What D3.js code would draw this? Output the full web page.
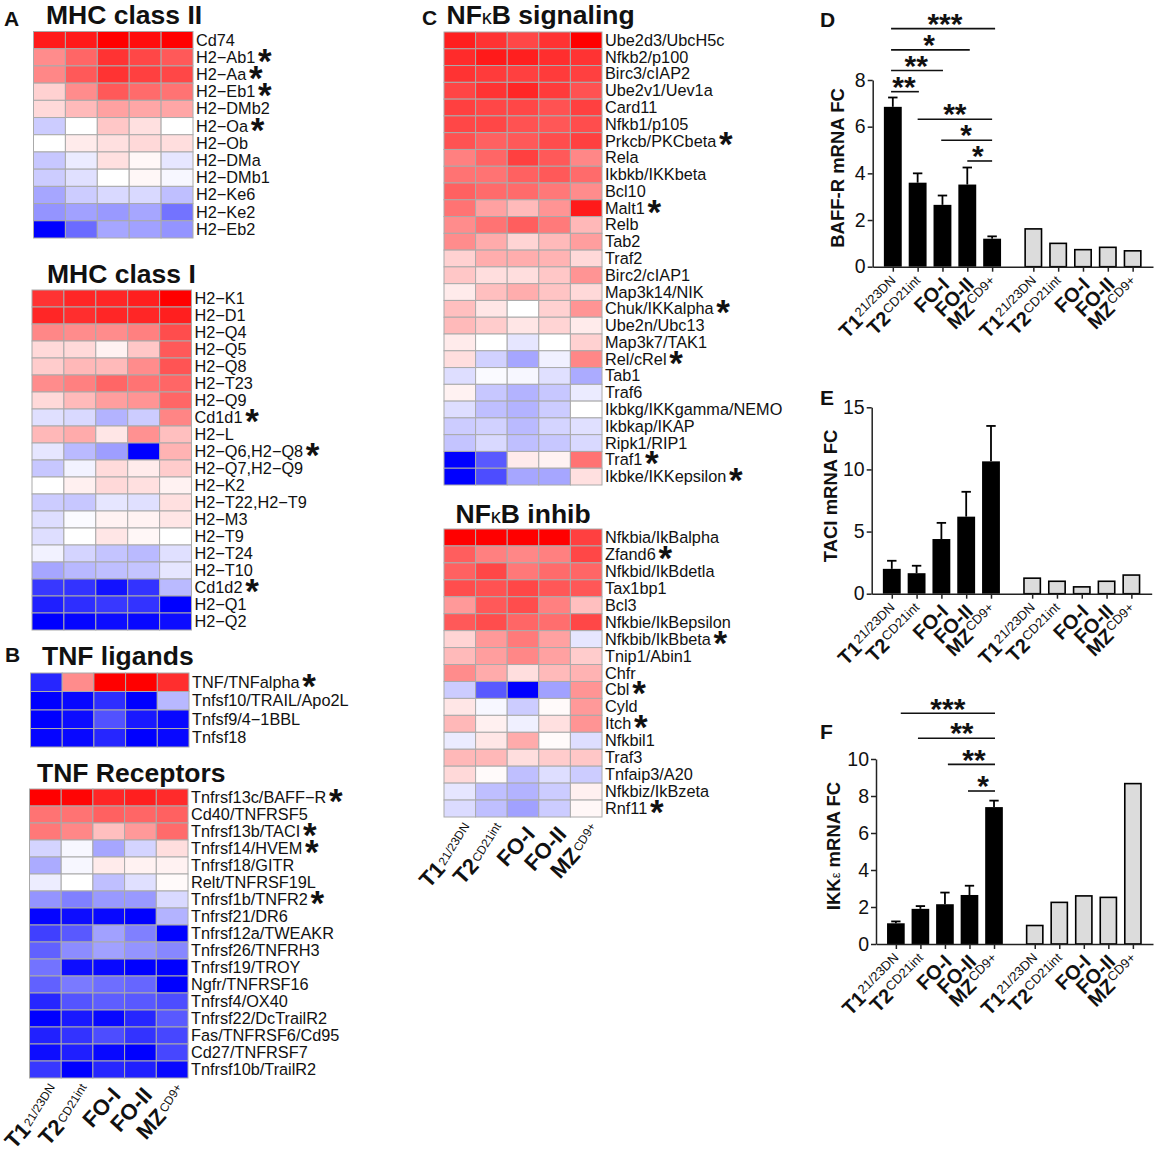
<!DOCTYPE html>
<html>
<head>
<meta charset="utf-8">
<script src="https://d3js.org/d3.v7.min.js"></script>
<style>
	body { margin: 0; background: #fff; }
	text { font-family: "Liberation Sans", Arial, sans-serif; fill: #111; }
	.row-label { font-size: 16.3px; }
	.title { font-size: 26.5px; font-weight: bold; }
	.letter { font-size: 21px; font-weight: bold; }
	.axis-title { font-size: 18.5px; font-weight: bold; }
	.axis text { font-size: 19.5px; }
	.axis path, .axis line { stroke: #222; stroke-width: 1.5; }
</style>
</head>
<body>
<div id="vis"></div>
<script>

var cells = [['T1', '21/23DN'], ['T2', 'CD21int'], ['FO-I', ''], ['FO-II', ''], ['MZ', 'CD9+']];

// heatmap values, -1 = full blue, 0 = white, 1 = full red
var mhc2Rows = ['Cd74', 'H2\u2212Ab1', 'H2\u2212Aa', 'H2\u2212Eb1', 'H2\u2212DMb2', 'H2\u2212Oa', 'H2\u2212Ob', 'H2\u2212DMa', 'H2\u2212DMb1', 'H2\u2212Ke6', 'H2\u2212Ke2', 'H2\u2212Eb2'];
var mhc2Stars = ['H2\u2212Ab1', 'H2\u2212Aa', 'H2\u2212Eb1', 'H2\u2212Oa'];
var mhc2Values = [
	[.9, .9, 1, .95, 1],
	[.45, .6, .8, .72, .65],
	[.47, .65, .8, .75, .72],
	[.18, .45, .65, .58, .55],
	[.15, .27, .37, .35, .35],
	[-.2, 0, .22, .12, 0],
	[0, .08, .12, .15, .13],
	[-.22, -.08, .12, .03, -.1],
	[-.2, -.12, 0, .03, -.03],
	[-.35, -.2, -.15, -.15, -.25],
	[-.42, -.37, -.4, -.35, -.55],
	[-1, -.58, -.35, -.37, -.42]
];

var mhc1Rows = ['H2\u2212K1', 'H2\u2212D1', 'H2\u2212Q4', 'H2\u2212Q5', 'H2\u2212Q8', 'H2\u2212T23', 'H2\u2212Q9', 'Cd1d1', 'H2\u2212L', 'H2\u2212Q6,H2\u2212Q8', 'H2\u2212Q7,H2\u2212Q9', 'H2\u2212K2', 'H2\u2212T22,H2\u2212T9', 'H2\u2212M3', 'H2\u2212T9', 'H2\u2212T24', 'H2\u2212T10', 'Cd1d2', 'H2\u2212Q1', 'H2\u2212Q2'];
var mhc1Stars = ['Cd1d1', 'H2\u2212Q6,H2\u2212Q8', 'Cd1d2'];
var mhc1Values = [
	[.8, .85, .85, .88, 1],
	[.85, .82, .85, .85, .88],
	[.47, .45, .45, .5, .7],
	[.15, .15, .05, .22, .65],
	[.2, .28, .27, .45, .67],
	[.45, .5, .6, .55, .6],
	[.15, .27, .38, .42, .6],
	[-.12, -.15, -.3, -.2, .48],
	[.28, .33, .1, .43, .25],
	[-.1, -.27, -.38, -1, .3],
	[-.22, -.05, .14, .08, .2],
	[0, .06, .15, .12, .05],
	[-.2, -.22, -.1, -.12, .12],
	[-.13, -.02, .05, .05, .1],
	[-.13, 0, .1, .03, 0],
	[-.05, -.17, -.23, -.27, -.12],
	[-.35, -.28, -.25, -.23, -.1],
	[-.78, -.8, -.93, -.8, -.27],
	[-.88, -.82, -.78, -.8, -1],
	[-1, -.98, -.95, -.97, -.95]
];

var ligandRows = ['TNF/TNFalpha', 'Tnfsf10/TRAIL/Apo2L', 'Tnfsf9/4\u22121BBL', 'Tnfsf18'];
var ligandStars = ['TNF/TNFalpha'];
var ligandValues = [
	[-.85, .45, 1, 1, .82],
	[-1, -.97, -.82, -1, -.28],
	[-1, -.95, -.68, -.9, -.97],
	[-.98, -.97, -.85, -1, -.97]
];

var receptorRows = ['Tnfrsf13c/BAFF\u2212R', 'Cd40/TNFRSF5', 'Tnfrsf13b/TACI', 'Tnfrsf14/HVEM', 'Tnfrsf18/GITR', 'Relt/TNFRSF19L', 'Tnfrsf1b/TNFR2', 'Tnfrsf21/DR6', 'Tnfrsf12a/TWEAKR', 'Tnfrsf26/TNFRH3', 'Tnfrsf19/TROY', 'Ngfr/TNFRSF16', 'Tnfrsf4/OX40', 'Tnfrsf22/DcTrailR2', 'Fas/TNFRSF6/Cd95', 'Cd27/TNFRSF7', 'Tnfrsf10b/TrailR2'];
var receptorStars = ['Tnfrsf13c/BAFF\u2212R', 'Tnfrsf13b/TACI', 'Tnfrsf14/HVEM', 'Tnfrsf1b/TNFR2'];
var receptorValues = [
	[1, .98, .85, .88, .83],
	[.55, .55, .62, .6, .62],
	[.53, .47, .25, .4, .58],
	[-.17, -.03, -.35, -.17, .13],
	[-.33, -.03, .08, .05, .05],
	[-.07, 0, -.25, -.12, .02],
	[-.42, -.5, -.4, -.4, -.15],
	[-.98, -.95, -.97, -1, -.3],
	[-.75, -.65, -.37, -.5, -1],
	[-.62, -.45, -.37, -.42, -.47],
	[-.55, -.95, -.97, -1, -1],
	[-.62, -.52, -.57, -.6, -1],
	[-.85, -.67, -.63, -.65, -.7],
	[-1, -.9, -.97, -.85, -.65],
	[-.87, -.8, -.7, -.8, -.72],
	[-.95, -.88, -.97, -1, -.72],
	[-.78, -1, -.85, -.88, -.97]
];

var signalRows = ['Ube2d3/UbcH5c', 'Nfkb2/p100', 'Birc3/cIAP2', 'Ube2v1/Uev1a', 'Card11', 'Nfkb1/p105', 'Prkcb/PKCbeta', 'Rela', 'Ikbkb/IKKbeta', 'Bcl10', 'Malt1', 'Relb', 'Tab2', 'Traf2', 'Birc2/cIAP1', 'Map3k14/NIK', 'Chuk/IKKalpha', 'Ube2n/Ubc13', 'Map3k7/TAK1', 'Rel/cRel', 'Tab1', 'Traf6', 'Ikbkg/IKKgamma/NEMO', 'Ikbkap/IKAP', 'Ripk1/RIP1', 'Traf1', 'Ikbke/IKKepsilon'];
var signalStars = ['Prkcb/PKCbeta', 'Malt1', 'Chuk/IKKalpha', 'Rel/cRel', 'Traf1', 'Ikbke/IKKepsilon'];
var signalValues = [
	[.88, .8, .72, .8, 1],
	[.83, .9, .88, .82, .8],
	[.8, .77, .75, .77, .75],
	[.73, .8, .85, .77, .68],
	[.75, .72, .72, .68, .75],
	[.72, .72, .68, .66, .7],
	[.68, .62, .65, .7, .75],
	[.5, .6, .75, .65, .47],
	[.55, .55, .62, .65, .58],
	[.62, .58, .58, .53, .45],
	[.55, .37, .27, .42, .9],
	[.45, .55, .63, .52, .28],
	[.45, .33, .17, .27, .38],
	[.18, .32, .32, .3, .15],
	[.22, .13, .13, .22, .42],
	[.08, .25, .32, .23, .15],
	[.25, .1, 0, .18, .42],
	[.27, .2, .1, .17, .08],
	[.08, 0, -.1, 0, .18],
	[.13, -.18, -.35, -.06, .47],
	[-.13, -.02, -.03, -.12, -.33],
	[.05, -.22, -.3, -.22, -.08],
	[-.13, -.25, -.3, -.2, 0],
	[-.2, -.18, -.27, -.17, -.12],
	[-.23, -.15, -.25, -.22, -.15],
	[-1, -.65, .08, .05, .55],
	[-1, -.7, -.35, -.35, .12]
];

var inhibRows = ['Nfkbia/IkBalpha', 'Zfand6', 'Nfkbid/IkBdetla', 'Tax1bp1', 'Bcl3', 'Nfkbie/IkBepsilon', 'Nfkbib/IkBbeta', 'Tnip1/Abin1', 'Chfr', 'Cbl', 'Cyld', 'Itch', 'Nfkbil1', 'Traf3', 'Tnfaip3/A20', 'Nfkbiz/IkBzeta', 'Rnf11'];
var inhibStars = ['Zfand6', 'Nfkbib/IkBbeta', 'Cbl', 'Itch', 'Rnf11'];
var inhibValues = [
	[1, 1, 1, 1, .75],
	[.63, .5, .47, .5, .72],
	[.62, .72, .53, .58, .6],
	[.7, .68, .72, .66, .66],
	[.4, .65, .7, .5, .25],
	[.65, .7, .6, .57, .72],
	[.17, .4, .52, .37, -.1],
	[.27, .38, .47, .37, .2],
	[.45, .33, .13, .27, .3],
	[-.2, -.65, -1, -.37, .42],
	[.1, -.03, -.2, .02, .4],
	[.28, .06, -.06, .12, .42],
	[-.08, .1, .33, .02, -.13],
	[.28, .28, .13, .2, .22],
	[.15, .02, -.25, -.13, -.2],
	[-.1, -.25, -.3, -.2, .06],
	[-.14, -.25, -.37, -.2, .03]
];

// bar charts
var baffMeans = [6.85, 3.6, 2.65, 3.52, 1.2];
var baffTops = [7.25, 4.0, 3.05, 4.25, 1.3];
var baffArray = [1.62, 1.0, .73, .83, .68];
var baffSig = [
	{ from: -.07, to: 4.12, y: 10.2, label: '***', at: 2.1 },
	{ from: -.07, to: 3.1, y: 9.29, label: '*', at: 1.46 },
	{ from: -.07, to: 2.02, y: 8.41, label: '**', at: .94 },
	{ from: -.07, to: 1.05, y: 7.5, label: '**', at: .45 },
	{ from: 1, to: 4, y: 6.32, label: '**', at: 2.5 },
	{ from: 1.95, to: 4, y: 5.42, label: '*', at: 2.95 },
	{ from: 3, to: 4, y: 4.53, label: '*', at: 3.42 }
];

var taciMeans = [2.0, 1.65, 4.4, 6.2, 10.65];
var taciTops = [2.65, 2.25, 5.7, 8.2, 13.5];
var taciArray = [1.25, 1.0, .55, 1.0, 1.5];

var ikkMeans = [1.12, 1.9, 2.15, 2.65, 7.4];
var ikkTops = [1.22, 2.05, 2.78, 3.15, 7.75];
var ikkArray = [1.0, 2.25, 2.6, 2.52, 8.67];
var ikkSig = [
	{ from: .2, to: 4.04, y: 12.47, label: '***', at: 2.12 },
	{ from: .9, to: 4.04, y: 11.12, label: '**', at: 2.69 },
	{ from: 2.12, to: 4.04, y: 9.71, label: '**', at: 3.18 },
	{ from: 2.94, to: 4.04, y: 8.27, label: '*', at: 3.55 }
];

var slots = [0, 1, 2, 3, 4];
var arraySlots = [5.66, 6.66, 7.66, 8.66, 9.66];

var colorScale = d3.scaleLinear().domain([-1, 0, 1]).range(['#0000ff', '#ffffff', '#ff0000']);

var svg = d3.select('#vis').append('svg')
	.attr('width', 1158)
	.attr('height', 1159)
	.style('display', 'block');

// bold glyph stars, centred on cy
function putStars(g, x, cy, label, size) {
	g.append('text')
		.attr('x', x)
		.attr('y', cy + size * 0.44)
		.attr('text-anchor', 'middle')
		.style('font-size', size + 'px')
		.style('font-weight', 'bold')
		.text(label);
}

function putBarLabel(g, d, x, y, angle, bigSize, smallSize) {
	var t = g.append('text')
		.attr('text-anchor', 'end')
		.attr('transform', 'translate(' + x + ',' + y + ') rotate(' + angle + ')');
	t.append('tspan')
		.style('font-size', bigSize + 'px')
		.style('font-weight', 'bold')
		.text(d[0]);
	if (d[1]) {
		t.append('tspan')
			.attr('dy', -bigSize * 0.32)
			.attr('dx', 1)
			.style('font-size', smallSize + 'px')
			.text(d[1]);
	}
}

// the heatmap labels have the small part tilted a bit steeper than the big part
function putHeatLabel(g, d, cx, bottom) {
	var bigAngle = -48, smallAngle = -58;
	var x = cx + 13, y = bottom + 18;
	if (d[1]) {
		x = cx + 10;
		y = bottom + 9;
		var small = g.append('text')
			.attr('text-anchor', 'end')
			.attr('transform', 'translate(' + x + ',' + y + ') rotate(' + smallAngle + ')')
			.style('font-size', '12px')
			.text(d[1]);
		var len = small.node().getComputedTextLength() + 1;
		x = x - len * Math.cos(-smallAngle * Math.PI / 180) + 2;
		y = y + len * Math.sin(-smallAngle * Math.PI / 180) + 3;
	}
	g.append('text')
		.attr('text-anchor', 'end')
		.attr('transform', 'translate(' + x + ',' + y + ') rotate(' + bigAngle + ')')
		.style('font-size', '22px')
		.style('font-weight', 'bold')
		.text(d[0]);
}

function drawHeat(box, rows, values, stars, withLabels) {
	var g = svg.append('g');
	var x = d3.scaleBand().domain(d3.range(5)).range([box.x0, box.x1]);
	var y = d3.scaleBand().domain(rows).range([box.y0, box.y1]);

	rows.forEach(function (name, i) {
		g.selectAll(null)
			.data(values[i])
			.enter().append('rect')
			.attr('x', function (d, j) { return x(j); })
			.attr('y', y(name))
			.attr('width', x.bandwidth())
			.attr('height', y.bandwidth())
			.attr('fill', function (d) { return colorScale(d); })
			.attr('stroke', '#aaa')
			.attr('stroke-width', 1);

		var label = g.append('text')
			.attr('class', 'row-label')
			.attr('x', box.x1 + 3)
			.attr('y', y(name) + y.bandwidth() / 2 + 5.5)
			.text(name);
		if (stars.indexOf(name) > -1) {
			putStars(g, box.x1 + 3 + label.node().getComputedTextLength() + 9.5, y(name) + y.bandwidth() / 2, '*', 35);
		}
	});

	if (withLabels) {
		cells.forEach(function (d, j) {
			putHeatLabel(g, d, x(j) + x.bandwidth() / 2, box.y1);
		});
	}
}

function drawBars(box, means, tops, arrayVals, axisTitle, sig) {
	var g = svg.append('g');
	var x = d3.scaleLinear().domain([-0.81, 10.48]).range([box.x0, box.x1]);
	var y = d3.scaleLinear().domain([0, box.max]).range([box.y0, box.y1]);
	var halfW = 0.36;

	g.selectAll(null)
		.data(means)
		.enter().append('line')
		.attr('x1', function (d, i) { return x(slots[i]); })
		.attr('x2', function (d, i) { return x(slots[i]); })
		.attr('y1', function (d) { return y(d); })
		.attr('y2', function (d, i) { return y(tops[i]); })
		.attr('stroke', '#000')
		.attr('stroke-width', 1.8);
	g.selectAll(null)
		.data(tops)
		.enter().append('line')
		.attr('x1', function (d, i) { return x(slots[i] - 0.19); })
		.attr('x2', function (d, i) { return x(slots[i] + 0.19); })
		.attr('y1', function (d) { return y(d); })
		.attr('y2', function (d) { return y(d); })
		.attr('stroke', '#000')
		.attr('stroke-width', 1.8);

	g.selectAll(null)
		.data(means)
		.enter().append('rect')
		.attr('x', function (d, i) { return x(slots[i] - halfW); })
		.attr('y', function (d) { return y(d); })
		.attr('width', x(halfW) - x(-halfW))
		.attr('height', function (d) { return y(0) - y(d); })
		.attr('fill', '#000');

	g.selectAll(null)
		.data(arrayVals)
		.enter().append('rect')
		.attr('x', function (d, i) { return x(arraySlots[i] - halfW + 0.03); })
		.attr('y', function (d) { return y(d); })
		.attr('width', x(halfW - 0.03) - x(-halfW + 0.03))
		.attr('height', function (d) { return y(0) - y(d); })
		.attr('fill', '#dcdcdc')
		.attr('stroke', '#000')
		.attr('stroke-width', 1.6);

	g.append('g')
		.attr('class', 'axis')
		.attr('transform', 'translate(' + box.x0 + ',0)')
		.call(d3.axisLeft(y).tickValues(box.ticks).tickSize(5).tickPadding(2).tickSizeOuter(0));

	g.append('g')
		.attr('class', 'axis')
		.attr('transform', 'translate(0,' + box.y0 + ')')
		.call(d3.axisBottom(x).tickValues(slots.concat(arraySlots)).tickFormat('').tickSize(5).tickSizeOuter(0));

	slots.concat(arraySlots).forEach(function (s, i) {
		putBarLabel(g, cells[i % 5], x(s) + 8, box.y0 + 19, -45, 20, 13);
	});

	var t = g.append('text')
		.attr('class', 'axis-title')
		.attr('text-anchor', 'middle')
		.attr('transform', 'translate(' + box.titleX + ',' + box.titleY + ') rotate(-90)');
	axisTitle.forEach(function (part) {
		t.append('tspan')
			.style('font-weight', part.light ? 'normal' : 'bold')
			.style('font-size', part.light ? '13px' : null)
			.text(part.text);
	});

	(sig || []).forEach(function (s) {
		g.append('line')
			.attr('x1', x(s.from))
			.attr('x2', x(s.to))
			.attr('y1', y(s.y))
			.attr('y2', y(s.y))
			.attr('stroke', '#111')
			.attr('stroke-width', 1.6);
		putStars(g, x(s.at), y(s.y) - 8, s.label, 30);
	});
}

function putTitle(x, y, parts) {
	var t = svg.append('text').attr('class', 'title').attr('x', x).attr('y', y);
	parts.forEach(function (part) {
		t.append('tspan')
			.style('font-size', part.small ? '20px' : null)
			.style('font-weight', part.small ? 'normal' : null)
			.text(part.text);
	});
}

function putLetter(x, y, s) {
	svg.append('text').attr('class', 'letter').attr('x', x).attr('y', y).text(s);
}

// heatmaps
drawHeat({ x0: 33.5, x1: 193, y0: 31.5, y1: 238 }, mhc2Rows, mhc2Values, mhc2Stars);
drawHeat({ x0: 32, x1: 191.5, y0: 290, y1: 630 }, mhc1Rows, mhc1Values, mhc1Stars);
drawHeat({ x0: 30.5, x1: 189, y0: 673, y1: 747 }, ligandRows, ligandValues, ligandStars);
drawHeat({ x0: 29.5, x1: 188, y0: 789, y1: 1078 }, receptorRows, receptorValues, receptorStars, true);
drawHeat({ x0: 444, x1: 602, y0: 32, y1: 485 }, signalRows, signalValues, signalStars);
drawHeat({ x0: 444, x1: 602, y0: 529, y1: 817 }, inhibRows, inhibValues, inhibStars, true);

putTitle(46, 24, [{ text: 'MHC class II' }]);
putTitle(47, 283, [{ text: 'MHC class I' }]);
putTitle(42, 665, [{ text: 'TNF ligands' }]);
putTitle(37, 782, [{ text: 'TNF Receptors' }]);
putTitle(446.5, 23.5, [{ text: 'NF' }, { text: '\u03ba', small: true }, { text: 'B signaling' }]);
putTitle(455.5, 523, [{ text: 'NF' }, { text: '\u03ba', small: true }, { text: 'B inhib' }]);

putLetter(4, 26, 'A');
putLetter(5, 662, 'B');
putLetter(422, 25, 'C');
putLetter(820, 27, 'D');
putLetter(820, 405, 'E');
putLetter(820, 739, 'F');

// bar panels
drawBars({ x0: 872.7, x1: 1153, y0: 266.7, y1: 80, max: 8, ticks: [0, 2, 4, 6, 8], titleX: 844, titleY: 168 },
	baffMeans, baffTops, baffArray, [{ text: 'BAFF-R mRNA FC' }], baffSig);
drawBars({ x0: 871.7, x1: 1151.7, y0: 593.7, y1: 407.3, max: 15, ticks: [0, 5, 10, 15], titleX: 837, titleY: 496 },
	taciMeans, taciTops, taciArray, [{ text: 'TACI mRNA FC' }]);
drawBars({ x0: 876, x1: 1153, y0: 944, y1: 759, max: 10, ticks: [0, 2, 4, 6, 8, 10], titleX: 840, titleY: 846 },
	ikkMeans, ikkTops, ikkArray, [{ text: 'IKK' }, { text: '\u03b5', light: true }, { text: ' mRNA FC' }], ikkSig);

</script>
</body>
</html>
